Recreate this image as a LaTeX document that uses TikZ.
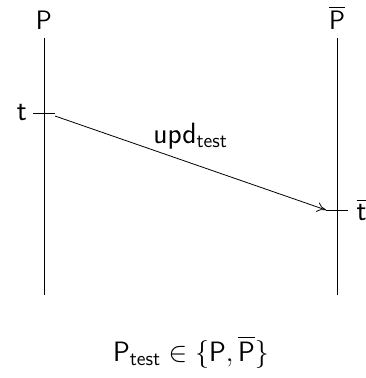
\RequirePackage{fix-cm}
\documentclass[tikz,border=0pt]{standalone}
\usepackage{amsmath,amssymb}
\usetikzlibrary{arrows.meta, positioning, calc}

\newcommand{\capfont}{\fontsize{20}{24}\selectfont\sffamily}
\newcommand{\lowfont}{\fontsize{22}{26}\selectfont\sffamily}
\newcommand{\subtxt}[1]{\text{\fontsize{15}{18}\selectfont\sffamily #1}}

\begin{document}
\begin{tikzpicture}[
		x=0.75pt, y=-0.75pt,
		every node/.style={font=\capfont},
		lifeline/.style={line width=0.6pt, black},
		tickmark/.style={line width=0.6pt, black},
		msgarrow/.style={-{To[length=2.4mm, width=2.6mm]}, line width=0.6pt, black}
	]
	\useasboundingbox (0,0) rectangle (366,378);

	% Process labels
	\node (procP) at (44,20) {P};
	\node (procPbar) at (337,18) {$\overline{\text{P}}$};

	% Life lines
	\coordinate (topP) at (44,38);
	\coordinate (botP) at (44,295);
	\coordinate (botPbar) at (337,295);
	\draw[lifeline] (topP) -- (botP);
	\draw[lifeline] (topP -| procPbar) -- (botPbar);

	% Event ticks
	\coordinate (evt) at (44,113);
	\coordinate (evtbar) at (337,210);
	\draw[tickmark] ($(evt)+(-11,0)$) coordinate (evtL) -- ($(evt)+(11,0)$) coordinate (evtR);
	\draw[tickmark] ($(evtbar)+(-11,0)$) coordinate (evtbarL) -- ($(evtbar)+(11,0)$) coordinate (evtbarR);
	\node[left=1pt of evtL, font=\lowfont] (lblt) {t};
	\node[right=3pt of evtbarR, font=\lowfont] (lbltbar) {$\overline{\text{t}}$};

	% Message
	\draw[msgarrow] ($(evtR)+(0,3)$) -- (evtbarL)
		node[midway, above=7pt, font=\lowfont] (lblupd) {upd$_{\subtxt{test}}$};

	% Bottom formula
	\node[font=\fontsize{21}{25}\selectfont\sffamily] (formula) at (191,352)
		{P$_{\subtxt{test}} \in \{\text{P}, \overline{\text{P}}\}$};
\end{tikzpicture}
\end{document}
